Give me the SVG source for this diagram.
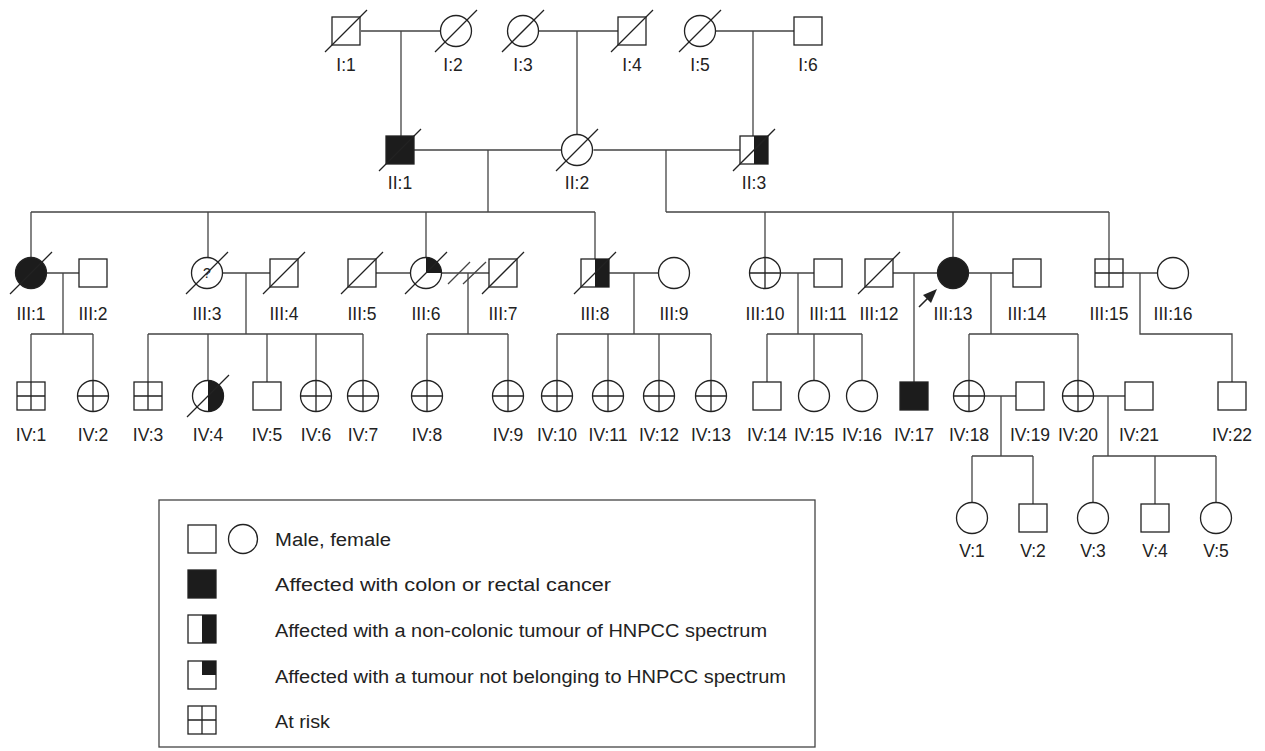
<svg xmlns="http://www.w3.org/2000/svg" width="1265" height="751" viewBox="0 0 1265 751">
<style>
.s{fill:#fff;stroke:#222;stroke-width:1.3}
.f{fill:#1c1c1c;stroke:none}
.d{stroke:#222;stroke-width:1.3;fill:none}
.c{stroke:#444;stroke-width:1.3;fill:none}
.lb{font-family:"Liberation Sans",Arial,sans-serif;font-size:17.5px;fill:#222;text-anchor:middle}
.lg{font-family:"Liberation Sans",Arial,sans-serif;font-size:18px;fill:#222}
</style>
<defs>
<rect id="sq" x="-14" y="-14" width="28" height="28" class="s"/>
<circle id="ci" r="15.5" class="s"/>
<line id="dec" x1="-21" y1="21" x2="21" y2="-21" class="d"/>
<path id="xsq" d="M-14,0H14M0,-14V14" class="d"/>
<path id="xci" d="M-15.5,0H15.5M0,-15.5V15.5" class="d"/>
</defs>
<g id="connectors" class="c">
<path d="M361,31H440.5M401,31V136"/>
<path d="M538.5,31H618M577,31V134.5"/>
<path d="M715.5,31H794M753,31V136"/>
<path d="M414,150H561.5M593.5,150H740"/>
<path d="M488,150V212M31,212H595M31,212V257.5M208,212V257.5M426,212V257.5M595,212V259"/>
<path d="M666,150V212M666,212H1109M765,212V257.5M953,212V257.5M1109,212V259"/>
<path d="M46.5,273H79M63,273V334M31,334H93M31,334V382M93,334V380.5"/>
<path d="M222.5,273H270M246,273V334M148,334H363M148,334V382M208,334V380.5M267,334V382M316,334V380.5M363,334V380.5"/>
<path d="M376,273H410.5"/>
<path d="M441.5,273H489M468,273V334M427,334H508M427,334V380.5M508,334V380.5"/>
<path d="M448,284L470,262M463,284L486,262"/>
<path d="M609,273H658.5M634,273V334M557,334H711M557,334V380.5M608,334V380.5M659,334V380.5M711,334V380.5"/>
<path d="M780.5,273H814M798,273V334M767,334H862M767,334V382M814,334V380.5M862,334V380.5"/>
<path d="M893,273H937.5M914,273V382"/>
<path d="M968.5,273H1013M991,273V334M969,334H1078M969,334V380.5M1078,334V380.5"/>
<path d="M1123,273H1157.5M1140,273V334H1232V382"/>
<path d="M984.5,396H1016M1001,396V456M972,456H1033M972,456V502.5M1033,456V504"/>
<path d="M1093.5,396H1125M1108,396V456M1093,456H1216M1093,456V502.5M1155,456V504M1216,456V502.5"/>
<line x1="919" y1="307" x2="930" y2="296" stroke="#222" stroke-width="1.6"/>
<path d="M937,289L923,295L931,303Z" fill="#222" stroke="none"/>
</g>
<g id="I1" transform="translate(346,31)"><use href="#sq"/><use href="#dec"/><text class="lb" x="0" y="40">I:1</text></g>
<g id="I2" transform="translate(456,31)"><use href="#ci"/><use href="#dec"/><text class="lb" x="-3" y="40">I:2</text></g>
<g id="I3" transform="translate(523,31)"><use href="#ci"/><use href="#dec"/><text class="lb" x="0" y="40">I:3</text></g>
<g id="I4" transform="translate(632,31)"><use href="#sq"/><use href="#dec"/><text class="lb" x="0" y="40">I:4</text></g>
<g id="I5" transform="translate(700,31)"><use href="#ci"/><use href="#dec"/><text class="lb" x="0" y="40">I:5</text></g>
<g id="I6" transform="translate(808,31)"><use href="#sq"/><text class="lb" x="0" y="40">I:6</text></g>
<g id="II1" transform="translate(400,150)"><rect x="-14" y="-14" width="28" height="28" fill="#1c1c1c" stroke="#222" stroke-width="1.3"/><use href="#dec"/><text class="lb" x="0" y="39">II:1</text></g>
<g id="II2" transform="translate(577,150)"><use href="#ci"/><use href="#dec"/><text class="lb" x="0" y="39">II:2</text></g>
<g id="II3" transform="translate(754,150)"><use href="#sq"/><rect x="0" y="-14" width="14" height="28" class="f"/><use href="#dec"/><text class="lb" x="0" y="39">II:3</text></g>
<g id="III1" transform="translate(31,273)"><circle r="15.5" fill="#1c1c1c" stroke="#222" stroke-width="1.3"/><use href="#dec"/><text class="lb" x="0" y="47">III:1</text></g>
<g id="III2" transform="translate(93,273)"><use href="#sq"/><text class="lb" x="0" y="47">III:2</text></g>
<g id="III3" transform="translate(207,273)"><use href="#ci"/><use href="#dec"/><text x="0" y="5" font-family="Liberation Sans, Arial, sans-serif" font-size="14" fill="#222" text-anchor="middle">?</text><text class="lb" x="0" y="47">III:3</text></g>
<g id="III4" transform="translate(284,273)"><use href="#sq"/><use href="#dec"/><text class="lb" x="0" y="47">III:4</text></g>
<g id="III5" transform="translate(362,273)"><use href="#sq"/><use href="#dec"/><text class="lb" x="0" y="47">III:5</text></g>
<g id="III6" transform="translate(426,273)"><use href="#ci"/><path d="M0,0V-15.5A15.5,15.5 0 0 1 15.5,0Z" class="f"/><use href="#dec"/><text class="lb" x="0" y="47">III:6</text></g>
<g id="III7" transform="translate(503,273)"><use href="#sq"/><use href="#dec"/><text class="lb" x="0" y="47">III:7</text></g>
<g id="III8" transform="translate(595,273)"><use href="#sq"/><rect x="0" y="-14" width="14" height="28" class="f"/><use href="#dec"/><text class="lb" x="0" y="47">III:8</text></g>
<g id="III9" transform="translate(674,273)"><use href="#ci"/><text class="lb" x="0" y="47">III:9</text></g>
<g id="III10" transform="translate(765,273)"><use href="#ci"/><use href="#xci"/><text class="lb" x="0" y="47">III:10</text></g>
<g id="III11" transform="translate(828,273)"><use href="#sq"/><text class="lb" x="0" y="47">III:11</text></g>
<g id="III12" transform="translate(879,273)"><use href="#sq"/><use href="#dec"/><text class="lb" x="0" y="47">III:12</text></g>
<g id="III13" transform="translate(953,273)"><circle r="15.5" fill="#1c1c1c" stroke="#222" stroke-width="1.3"/><text class="lb" x="0" y="47">III:13</text></g>
<g id="III14" transform="translate(1027,273)"><use href="#sq"/><text class="lb" x="0" y="47">III:14</text></g>
<g id="III15" transform="translate(1109,273)"><use href="#sq"/><use href="#xsq"/><text class="lb" x="0" y="47">III:15</text></g>
<g id="III16" transform="translate(1173,273)"><use href="#ci"/><text class="lb" x="0" y="47">III:16</text></g>
<g id="IV1" transform="translate(31,396)"><use href="#sq"/><use href="#xsq"/><text class="lb" x="0" y="45">IV:1</text></g>
<g id="IV2" transform="translate(93,396)"><use href="#ci"/><use href="#xci"/><text class="lb" x="0" y="45">IV:2</text></g>
<g id="IV3" transform="translate(148,396)"><use href="#sq"/><use href="#xsq"/><text class="lb" x="0" y="45">IV:3</text></g>
<g id="IV4" transform="translate(208,396)"><use href="#ci"/><path d="M0,-15.5A15.5,15.5 0 0 1 0,15.5Z" class="f"/><use href="#dec"/><text class="lb" x="0" y="45">IV:4</text></g>
<g id="IV5" transform="translate(267,396)"><use href="#sq"/><text class="lb" x="0" y="45">IV:5</text></g>
<g id="IV6" transform="translate(316,396)"><use href="#ci"/><use href="#xci"/><text class="lb" x="0" y="45">IV:6</text></g>
<g id="IV7" transform="translate(363,396)"><use href="#ci"/><use href="#xci"/><text class="lb" x="0" y="45">IV:7</text></g>
<g id="IV8" transform="translate(427,396)"><use href="#ci"/><use href="#xci"/><text class="lb" x="0" y="45">IV:8</text></g>
<g id="IV9" transform="translate(508,396)"><use href="#ci"/><use href="#xci"/><text class="lb" x="0" y="45">IV:9</text></g>
<g id="IV10" transform="translate(557,396)"><use href="#ci"/><use href="#xci"/><text class="lb" x="0" y="45">IV:10</text></g>
<g id="IV11" transform="translate(608,396)"><use href="#ci"/><use href="#xci"/><text class="lb" x="0" y="45">IV:11</text></g>
<g id="IV12" transform="translate(659,396)"><use href="#ci"/><use href="#xci"/><text class="lb" x="0" y="45">IV:12</text></g>
<g id="IV13" transform="translate(711,396)"><use href="#ci"/><use href="#xci"/><text class="lb" x="0" y="45">IV:13</text></g>
<g id="IV14" transform="translate(767,396)"><use href="#sq"/><text class="lb" x="0" y="45">IV:14</text></g>
<g id="IV15" transform="translate(814,396)"><use href="#ci"/><text class="lb" x="0" y="45">IV:15</text></g>
<g id="IV16" transform="translate(862,396)"><use href="#ci"/><text class="lb" x="0" y="45">IV:16</text></g>
<g id="IV17" transform="translate(914,396)"><rect x="-14" y="-14" width="28" height="28" fill="#1c1c1c" stroke="#222" stroke-width="1.3"/><text class="lb" x="0" y="45">IV:17</text></g>
<g id="IV18" transform="translate(969,396)"><use href="#ci"/><use href="#xci"/><text class="lb" x="0" y="45">IV:18</text></g>
<g id="IV19" transform="translate(1030,396)"><use href="#sq"/><text class="lb" x="0" y="45">IV:19</text></g>
<g id="IV20" transform="translate(1078,396)"><use href="#ci"/><use href="#xci"/><text class="lb" x="0" y="45">IV:20</text></g>
<g id="IV21" transform="translate(1139,396)"><use href="#sq"/><text class="lb" x="0" y="45">IV:21</text></g>
<g id="IV22" transform="translate(1232,396)"><use href="#sq"/><text class="lb" x="0" y="45">IV:22</text></g>
<g id="V1" transform="translate(972,518)"><use href="#ci"/><text class="lb" x="0" y="39">V:1</text></g>
<g id="V2" transform="translate(1033,518)"><use href="#sq"/><text class="lb" x="0" y="39">V:2</text></g>
<g id="V3" transform="translate(1093,518)"><use href="#ci"/><text class="lb" x="0" y="39">V:3</text></g>
<g id="V4" transform="translate(1155,518)"><use href="#sq"/><text class="lb" x="0" y="39">V:4</text></g>
<g id="V5" transform="translate(1216,518)"><use href="#ci"/><text class="lb" x="0" y="39">V:5</text></g>
<g id="legend">
<rect x="159" y="500" width="656" height="247" fill="none" stroke="#444" stroke-width="1.3"/>
<rect x="188" y="525" width="28" height="28" class="s"/>
<circle cx="243" cy="539" r="14.5" class="s"/>
<text class="lg" x="275" y="546" textLength="116" lengthAdjust="spacingAndGlyphs">Male, female</text>
<rect x="188" y="570" width="28" height="28" fill="#1c1c1c" stroke="#222" stroke-width="1.3"/>
<text class="lg" x="275" y="591" textLength="336" lengthAdjust="spacingAndGlyphs">Affected with colon or rectal cancer</text>
<rect x="188" y="615" width="28" height="28" class="s"/>
<rect x="202" y="615" width="14" height="28" class="f"/>
<text class="lg" x="275" y="637" textLength="492" lengthAdjust="spacingAndGlyphs">Affected with a non-colonic tumour of HNPCC spectrum</text>
<rect x="188" y="661" width="28" height="28" class="s"/>
<rect x="202" y="661" width="14" height="14" class="f"/>
<text class="lg" x="275" y="683" textLength="511" lengthAdjust="spacingAndGlyphs">Affected with a tumour not belonging to HNPCC spectrum</text>
<rect x="188" y="706" width="28" height="28" class="s"/>
<path d="M188,720H216M202,706V734" class="d"/>
<text class="lg" x="275" y="728" textLength="55" lengthAdjust="spacingAndGlyphs">At risk</text>
</g>
</svg>
